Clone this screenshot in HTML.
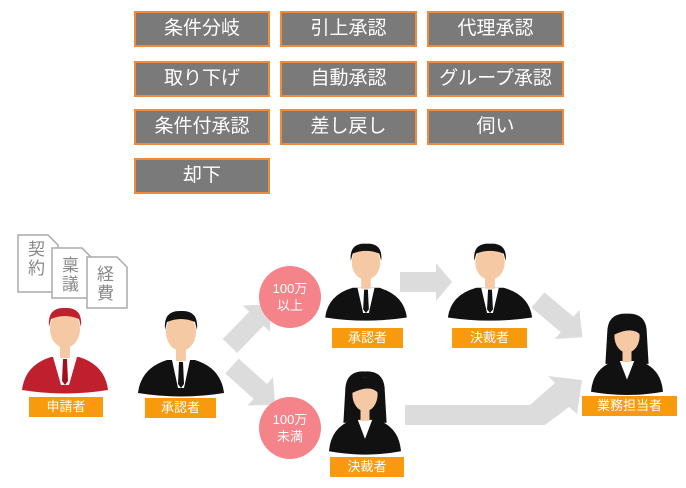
<!DOCTYPE html>
<html><head><meta charset="utf-8"><style>
html,body{margin:0;padding:0;background:#fff;}
body{width:686px;height:488px;overflow:hidden;position:relative;font-family:"Liberation Sans","Noto Sans CJK JP",sans-serif;}
.b{position:absolute;background:#7a7a7a;border:2px solid #f08a3c;box-sizing:border-box;color:#fff;font-size:19px;text-align:center;line-height:32px;}
.l{position:absolute;background:#f79a0e;color:#fff;font-size:13px;text-align:center;line-height:20px;height:20px;}
.c{position:absolute;width:62px;height:62px;border-radius:50%;background:#f4848a;color:#fff;font-size:13px;text-align:center;line-height:17px;box-sizing:border-box;padding-top:14px;}
svg{position:absolute;left:0;top:0;}
.d{position:absolute;color:#888;font-size:17px;line-height:19px;width:20px;}
</style></head><body>
<div class="b" style="left:134px;top:11px;width:136px;height:36px">条件分岐</div>
<div class="b" style="left:280px;top:11px;width:137px;height:36px">引上承認</div>
<div class="b" style="left:427px;top:11px;width:137px;height:36px">代理承認</div>
<div class="b" style="left:134px;top:61px;width:136px;height:36px">取り下げ</div>
<div class="b" style="left:280px;top:61px;width:137px;height:36px">自動承認</div>
<div class="b" style="left:427px;top:61px;width:137px;height:36px">グループ承認</div>
<div class="b" style="left:134px;top:109px;width:136px;height:36px">条件付承認</div>
<div class="b" style="left:280px;top:109px;width:137px;height:36px">差し戻し</div>
<div class="b" style="left:427px;top:109px;width:137px;height:36px">伺い</div>
<div class="b" style="left:134px;top:158px;width:136px;height:36px">却下</div>

<svg width="686" height="488">
<defs>
<g id="man">
 <path d="M-43,75 Q-40,50 -14,42 L14,42 Q40,50 43,75 Q0,82 -43,75Z"/>
 <path d="M-9,42 L9,42 L3,70 L-3,70Z" fill="#fff"/>
 <path d="M-2,44 L2,44 L3,66 L0,70 L-3,66Z" fill="#111"/>
 <rect x="-5" y="30" width="10" height="13" fill="#f5c9a3"/>
 <ellipse cx="0" cy="14" rx="15" ry="19" fill="#f5c9a3"/>
 <path d="M-16,12 Q-18,-8 0,-7 Q18,-8 16,12 L14,4 Q0,-2 -14,4Z"/>
</g>
<g id="redman">
 <path d="M-43,75 Q-40,50 -14,42 L14,42 Q40,50 43,75 Q0,82 -43,75Z" fill="#c0202e"/>
 <path d="M-12,42 L12,42 L4,70 L-4,70Z" fill="#fff"/>
 <path d="M-2,44 L2,44 L3,66 L0,70 L-3,66Z" fill="#a0101e"/>
 <rect x="-5" y="30" width="10" height="13" fill="#f5c9a3"/>
 <ellipse cx="0" cy="14" rx="15" ry="19" fill="#f5c9a3"/>
 <path d="M-16,12 Q-18,-8 0,-7 Q18,-8 16,12 L14,4 Q0,-2 -14,4Z" fill="#c0202e"/>
</g>
<g id="woman">
 <path d="M-22,12 Q-22,-10 0,-9 Q22,-10 22,12 L24,45 L-24,45Z"/>
 <path d="M-40,75 Q-38,50 -14,42 L14,42 Q38,50 40,75 Q0,82 -40,75Z"/>
 <path d="M-8,42 L8,42 L0,62Z" fill="#fff"/>
 <rect x="-5" y="30" width="10" height="13" fill="#f5c9a3"/>
 <ellipse cx="0" cy="15" rx="14" ry="18" fill="#f5c9a3"/>
 <path d="M-15,14 Q-14,-4 2,-3 Q14,0 15,14 Q6,4 -15,14Z"/>
</g>
<path id="arr" d="M0,-10 L38,-10 L38,-19 L58,0 L38,19 L38,10 L0,10Z"/>
</defs>
<g fill="#dcdcdc">
 <use href="#arr" transform="translate(230,346) rotate(-46)"/>
 <use href="#arr" transform="translate(232,366) rotate(42)"/>
 <path d="M400,272 L436,272 L436,263 L452,282 L436,301 L436,292 L400,292Z"/>
 <use href="#arr" transform="translate(538,300) rotate(40)"/>
 <path d="M405,405 L530,405 L555,383 L548,376 L582,380 L577,414 L569,407 L545,425 L405,425Z"/>
</g>
<g stroke="#aaa" stroke-width="1.5" fill="#fff">
 <path d="M18,235 L48,235 L58,245 L58,292 L18,292Z"/>
 <path d="M52,248 L82,248 L92,258 L92,298 L52,298Z"/>
 <path d="M87,257 L117,257 L127,267 L127,308 L87,308Z"/>
</g>
<g fill="#111">
 <use href="#redman" transform="translate(65,315)"/>
 <use href="#man" transform="translate(181,318)"/>
 <use href="#man" transform="translate(366,250) scale(0.95,0.9)"/>
 <use href="#man" transform="translate(490,250) scale(0.98,0.9)"/>
 <use href="#woman" transform="translate(365,380) scale(0.9,0.95)"/>
 <use href="#woman" transform="translate(627,322) scale(0.9,0.93)"/>
</g>
</svg>
<div class="d" style="left:28px;top:240px">契約</div>
<div class="d" style="left:62px;top:256px">稟議</div>
<div class="d" style="left:97px;top:265px">経費</div>
<div class="c" style="left:259px;top:266px">100万<br>以上</div>
<div class="c" style="left:259px;top:397px">100万<br>未満</div>
<div class="l" style="left:29px;top:397px;width:74px">申請者</div>
<div class="l" style="left:145px;top:398px;width:71px">承認者</div>
<div class="l" style="left:332px;top:328px;width:71px">承認者</div>
<div class="l" style="left:452px;top:328px;width:75px">決裁者</div>
<div class="l" style="left:330px;top:457px;width:74px">決裁者</div>
<div class="l" style="left:582px;top:396px;width:95px">業務担当者</div>
</body></html>
